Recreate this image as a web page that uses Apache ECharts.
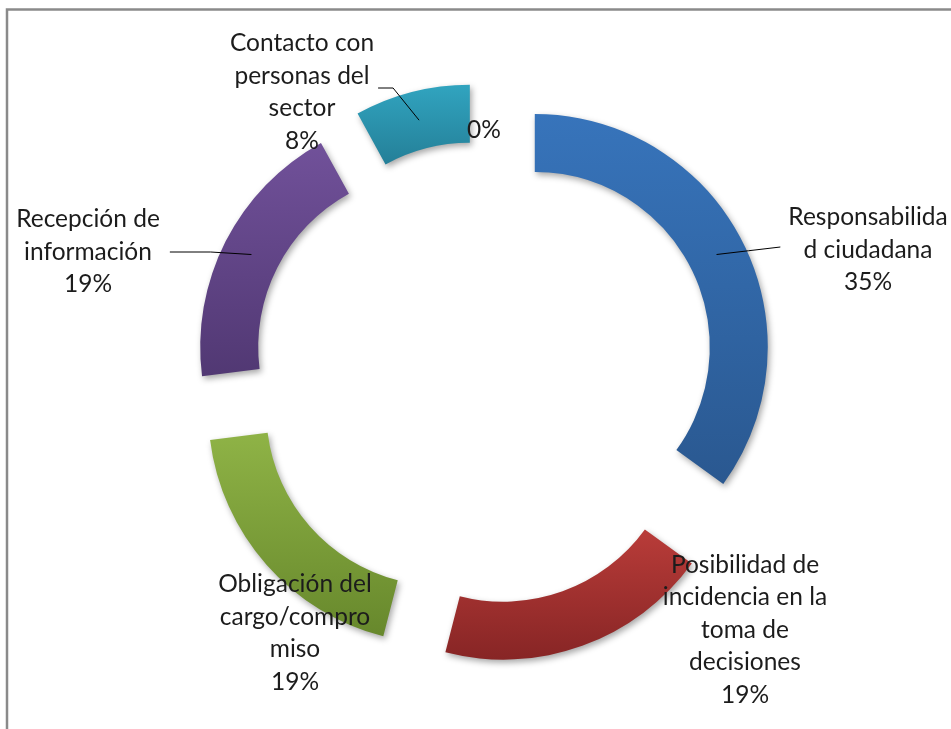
<!DOCTYPE html>
<html>
<head>
<meta charset="utf-8">
<script src="https://cdn.jsdelivr.net/npm/echarts@6/dist/echarts.min.js"></script>
<style>
  html, body { margin: 0; padding: 0; background: #ffffff; }
  #chart { width: 951px; height: 729px; }
</style>
</head>
<body>
<div id="chart"></div>
<script>
// Categorías y porcentajes del gráfico de anillo
const categorias = [
  'Responsabilidad ciudadana',
  'Posibilidad de incidencia en la toma de decisiones',
  'Obligación del cargo/compromiso',
  'Recepción de información',
  'Contacto con personas del sector',
  ''
];
const porcentajes = [35, 19, 19, 19, 8, 0];
// Texto de las etiquetas tal como se corta en líneas
const etiquetas = [
  'Responsabilida\nd ciudadana',
  'Posibilidad de\nincidencia en la\ntoma de\ndecisiones',
  'Obligación del\ncargo/compro\nmiso',
  'Recepción de\ninformación',
  'Contacto con\npersonas del\nsector',
  ''
];
// Degradados (arriba, abajo) de cada sector
const colores = [
  ['#3774bb', '#2a5890'],
  ['#b93c39', '#872525'],
  ['#8fb346', '#67882c'],
  ['#71519a', '#513873'],
  ['#31a4bf', '#247f98'],
  ['#cccccc', '#aaaaaa']
];

const CX = 484, CY = 373, R0 = 175, R1 = 233, OFFSET = 57;
// Centro de cada bloque de etiqueta
const posEtiqueta = [[868, 250], [745, 630], [295, 633], [88, 252], [302, 92], [484, 130]];
const conLinea = [true, false, false, true, true, false];

const total = porcentajes.reduce((a, b) => a + b, 0);
// Punto central del sector desplazado (ángulo medio, radio medio)
function puntoMedio(i) {
  let acum = 0;
  for (let k = 0; k < i; k++) acum += porcentajes[k];
  const ang = (acum + porcentajes[i] / 2) / total * 2 * Math.PI;
  const rr = OFFSET + (R0 + R1) / 2;
  return [CX + rr * Math.sin(ang), CY - rr * Math.cos(ang)];
}

const chart = echarts.init(document.getElementById('chart'), null, { renderer: 'canvas' });

// Sectores separados del centro
const sectores = categorias.map((nombre, i) => ({
  name: nombre,
  value: porcentajes[i],
  selected: true,
  itemStyle: {
    color: new echarts.graphic.LinearGradient(0, 0, 0, 1, [
      { offset: 0, color: colores[i][0] },
      { offset: 1, color: colores[i][1] }
    ])
  }
}));

// Misma serie, transparente, que sólo lleva las etiquetas
const rotulos = categorias.map((nombre, i) => ({
  name: nombre,
  value: porcentajes[i],
  labelLine: { show: conLinea[i] }
}));

chart.setOption({
  backgroundColor: '#ffffff',
  animation: false,
  graphic: [{
    type: 'rect',
    shape: { x: 7, y: 9.5, width: 1200, height: 1000 },
    style: { fill: 'none', stroke: '#8a8a8a', lineWidth: 2.5 },
    silent: true
  }],
  series: [{
    type: 'pie',
    center: [CX, CY],
    radius: [R0, R1],
    startAngle: 90,
    clockwise: true,
    selectedMode: 'multiple',
    selectedOffset: OFFSET,
    silent: true,
    emphasis: { disabled: true },
    itemStyle: {
      shadowBlur: 6,
      shadowOffsetX: 2,
      shadowOffsetY: 3,
      shadowColor: 'rgba(0,0,0,0.35)'
    },
    label: { show: false },
    labelLine: { show: false },
    data: sectores
  }, {
    type: 'pie',
    center: [CX, CY],
    radius: [R0, R1],
    startAngle: 90,
    clockwise: true,
    silent: true,
    z: 5,
    avoidLabelOverlap: false,
    minShowLabelAngle: 0,
    emphasis: { disabled: true },
    itemStyle: { color: 'rgba(0,0,0,0)' },
    label: {
      show: true,
      position: 'outside',
      formatter: p => (etiquetas[p.dataIndex] ? etiquetas[p.dataIndex] + '\n' : '') + Math.round(p.percent) + '%',
      fontFamily: 'Lato',
      fontSize: 24.5,
      lineHeight: 32.5,
      color: '#1c1c1c',
      align: 'center'
    },
    labelLine: {
      show: true,
      lineStyle: { color: '#000000', width: 1 }
    },
    labelLayout: function (p) {
      const i = p.dataIndex;
      const [lx, ly] = posEtiqueta[i];
      const w = p.labelRect.width;
      const res = { x: lx, y: ly, align: 'center', verticalAlign: 'middle' };
      if (conLinea[i]) {
        const s = puntoMedio(i);
        if (i === 0) {
          const e = [lx - w / 2 - 8, ly - 3];
          res.labelLinePoints = [s, [(s[0] + e[0]) / 2, (s[1] + e[1]) / 2], e];
        } else if (i === 3) {
          const e = [lx + w / 2 + 10, ly];
          res.labelLinePoints = [s, [(s[0] + e[0]) / 2, ly], e];
        } else {
          res.labelLinePoints = [s, [s[0] - 26, ly - 4], [s[0] - 41, ly - 4]];
        }
      }
      return res;
    },
    data: rotulos
  }]
});
</script>
</body>
</html>
